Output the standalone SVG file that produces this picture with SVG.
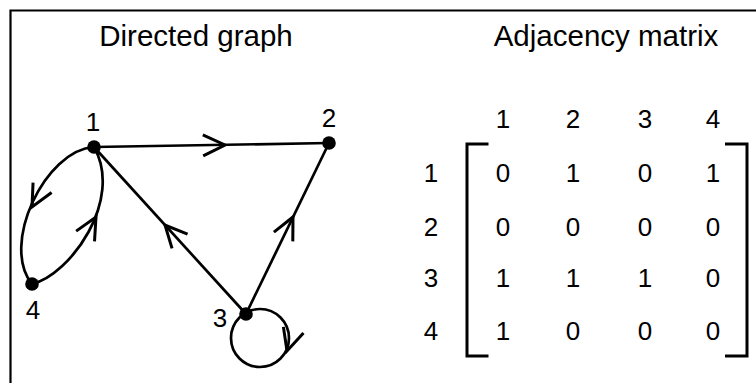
<svg xmlns="http://www.w3.org/2000/svg" xmlns:xlink="http://www.w3.org/1999/xlink" width="756" height="383" viewBox="0 0 756 383">
<style>
text{font-family:"Liberation Sans",Arial,sans-serif;fill:#000;}
.title{font-size:29.5px;text-anchor:middle;}
.lbl{font-size:26px;text-anchor:middle;}
.m{font-size:26px;text-anchor:middle;}
.edge{fill:none;stroke:#000;stroke-width:2.7;}
.chev{fill:none;stroke:#000;stroke-width:3;stroke-linejoin:miter;}
.node{fill:#000;}
.frame{fill:none;stroke:#000;stroke-width:2.2;}
.br{fill:none;stroke:#000;stroke-width:3;}
</style>
<defs>
<path id="chev" class="chev" d="M-22,-10.5 L0,0 L-22,10.5"/>
</defs>
<rect width="756" height="383" fill="#fff"/>
<path class="frame" d="M10.5,383 V10.5 H756"/>
<text class="title" x="196" y="46">Directed graph</text>
<text class="title" x="606" y="46">Adjacency matrix</text>
<g id="connectors">
<path class="edge" d="M94,147 L329,143"/>
<use href="#chev" transform="translate(225,145) rotate(-1)"/>
<path class="edge" d="M246,314 L94,147"/>
<use href="#chev" transform="translate(165,225) rotate(-132.3)"/>
<path class="edge" d="M246,314 L329,143"/>
<use href="#chev" transform="translate(293,217) rotate(-64)"/>
<path class="edge" d="M94,147 C45,150 0,245 32,284"/>
<use href="#chev" transform="translate(32,207) rotate(118)"/>
<path class="edge" d="M32,284 C70,275 124,200 94,147"/>
<use href="#chev" transform="translate(96,217) rotate(-61)"/>
<circle class="edge" cx="260" cy="338" r="29"/>
<use href="#chev" transform="translate(287,351) rotate(107)"/>
</g>
<g id="node1"><circle class="node" cx="94" cy="147" r="6.8"/><text class="lbl" x="93" y="131">1</text></g>
<g id="node2"><circle class="node" cx="329" cy="143" r="6.8"/><text class="lbl" x="329" y="127">2</text></g>
<g id="node3"><circle class="node" cx="246" cy="314" r="6.8"/><text class="lbl" x="220" y="327">3</text></g>
<g id="node4"><circle class="node" cx="32" cy="284" r="6.8"/><text class="lbl" x="33" y="319">4</text></g>
<g id="matrix">
<path class="br" d="M488.5,144 H467 V356 H488.5"/>
<path class="br" d="M725,144 H747 V356 H725"/>
<text class="m" x="503" y="128">1</text>
<text class="m" x="573" y="128">2</text>
<text class="m" x="645" y="128">3</text>
<text class="m" x="713" y="128">4</text>
<text class="m" x="431" y="181.5">1</text>
<text class="m" x="431" y="235.5">2</text>
<text class="m" x="431" y="287">3</text>
<text class="m" x="431" y="340">4</text>
<text class="m" x="503" y="181.5">0</text><text class="m" x="573" y="181.5">1</text><text class="m" x="645" y="181.5">0</text><text class="m" x="713" y="181.5">1</text>
<text class="m" x="503" y="235.5">0</text><text class="m" x="573" y="235.5">0</text><text class="m" x="645" y="235.5">0</text><text class="m" x="713" y="235.5">0</text>
<text class="m" x="503" y="287">1</text><text class="m" x="573" y="287">1</text><text class="m" x="645" y="287">1</text><text class="m" x="713" y="287">0</text>
<text class="m" x="503" y="340">1</text><text class="m" x="573" y="340">0</text><text class="m" x="645" y="340">0</text><text class="m" x="713" y="340">0</text>
</g>
</svg>
